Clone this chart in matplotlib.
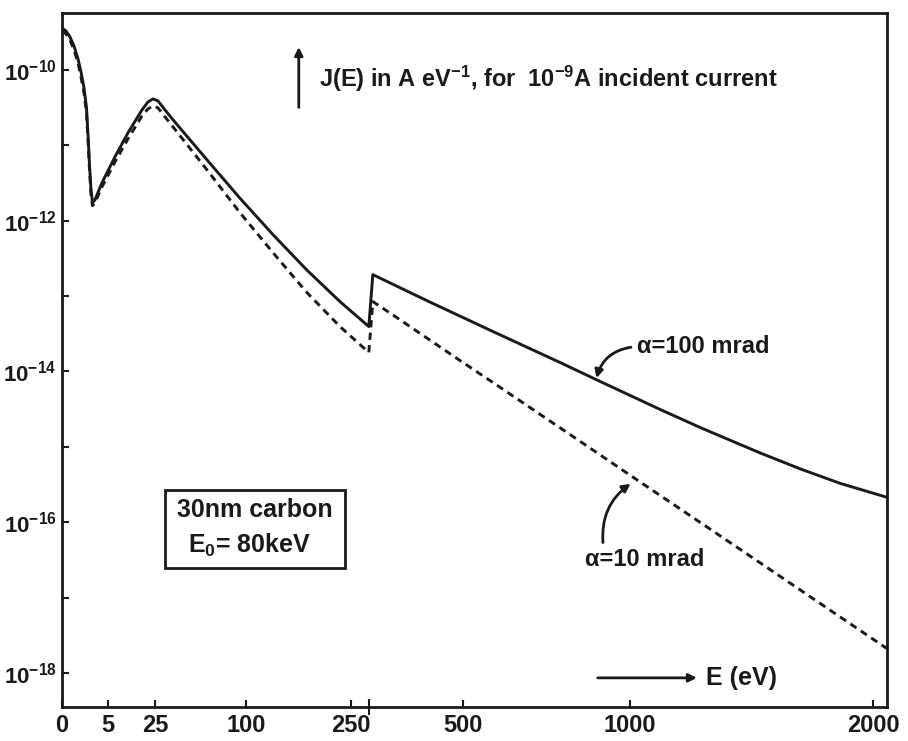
import numpy as np
import matplotlib
matplotlib.use('Agg')
import matplotlib.pyplot as plt
from matplotlib.patches import Rectangle

# energy loss E (eV) and log10 J(E)
e_100 = [0, 0.038, 0.151, 0.34, 0.605, 0.853, 1.144, 1.419, 1.598, 1.788, 1.988, 2.199,
         2.574, 3.78, 7.01, 11.64, 17.94, 21.06, 23.85, 26.67, 30.79, 35.87, 61.7, 93.5,
         132.1, 178.9, 231.1, 284, 292, 410, 577, 770, 898, 1105, 1253, 1358, 1492, 1664,
         1844, 2068]
logj_100 = [-9.444, -9.483, -9.563, -9.682, -9.854, -10.026, -10.238, -10.503, -10.861,
            -11.258, -11.589, -11.762, -11.722, -11.497, -11.152, -10.834, -10.530, -10.424,
            -10.384, -10.411, -10.530, -10.662, -11.192, -11.702, -12.185, -12.656, -13.073,
            -13.404, -12.715, -13.060, -13.470, -13.881, -14.132, -14.503, -14.742, -14.894,
            -15.079, -15.291, -15.483, -15.669]

e_10 = [0, 0.038, 0.151, 0.34, 0.605, 0.853, 1.144, 1.419, 1.598, 1.788, 1.988, 2.199,
        2.574, 3.78, 7.01, 11.64, 17.94, 21.06, 23.85, 26.67, 30.79, 35.87, 61.7, 93.5,
        132.1, 178.9, 231.1, 284, 292, 334, 410, 492, 577, 730, 898, 1010, 1253, 1522,
        1812, 2068]
logj_10 = [-9.483, -9.523, -9.603, -9.735, -9.907, -10.093, -10.305, -10.570, -10.927,
           -11.325, -11.656, -11.801, -11.762, -11.550, -11.219, -10.914, -10.609, -10.517,
           -10.477, -10.503, -10.623, -10.755, -11.325, -11.894, -12.424, -12.954, -13.404,
           -13.748, -13.073, -13.252, -13.556, -13.854, -14.146, -14.630, -15.106, -15.401,
           -16.000, -16.600, -17.192, -17.675]

x_ticks = [0, 5, 25, 100, 250, 500, 1000, 2000]
k_edge = 284
y_decades = list(range(-18, -9))

# the energy axis of the original is hand drawn, roughly sqrt(E);
# spacing of the tick marks along it (arbitrary units)
s_knots = np.sqrt(np.array(x_ticks + [2500], dtype=float))
u_knots = np.array([0, 46, 93, 184, 289, 401, 568, 811, 909], dtype=float)


def fwd(e):
    s = np.sqrt(np.clip(np.asarray(e, dtype=float), 0, None))
    return np.interp(s, s_knots, u_knots)


def inv(u):
    return np.interp(u, u_knots, s_knots) ** 2


plt.rcParams['font.family'] = ['Liberation Sans', 'DejaVu Sans']
plt.rcParams['font.weight'] = 'bold'
plt.rcParams['mathtext.fontset'] = 'custom'
plt.rcParams['mathtext.rm'] = 'Liberation Sans:bold'
plt.rcParams['mathtext.it'] = 'Liberation Sans:bold'
plt.rcParams['mathtext.bf'] = 'Liberation Sans:bold'
plt.rcParams['mathtext.default'] = 'rm'

ink = '#1a1a1a'
fig = plt.figure(figsize=(9.08, 7.41), dpi=100)
ax = fig.add_axes([62 / 908, 34 / 741, 825 / 908, 694 / 741])
ax.set_xscale('function', functions=(fwd, inv))
ax.set_yscale('log')

ax.plot(e_100, 10.0 ** np.array(logj_100), color=ink, lw=2.1, solid_joinstyle='round')
ax.plot(e_10, 10.0 ** np.array(logj_10), color=ink, lw=2.1, ls=(0, (2.5, 1.8)))

ax.set_xlim(0, 2068)
ax.set_ylim(10 ** -18.45, 10 ** -9.245)

ax.set_xticks(x_ticks)
ax.set_xticklabels([str(v) for v in x_ticks])
ax.set_xticks([k_edge], minor=True)
ax.set_yticks([10.0 ** d for d in y_decades if d % 2 == 0])
ax.set_yticklabels(['$10^{%d}$' % d for d in y_decades if d % 2 == 0])
ax.set_yticks([10.0 ** d for d in y_decades if d % 2 != 0], minor=True)
ax.yaxis.set_minor_formatter(plt.NullFormatter())
ax.tick_params(axis='both', which='both', direction='in', length=5, width=1.5,
               color=ink, labelcolor=ink)
ax.tick_params(axis='x', which='major', pad=5, labelsize=17)
ax.tick_params(axis='x', which='minor', direction='inout', length=12)
ax.tick_params(axis='y', which='major', pad=4, labelsize=16)
for sp in ax.spines.values():
    sp.set_linewidth(2.0)
    sp.set_color(ink)

tf = ax.transAxes
ax.annotate('', xy=(0.287, 0.955), xytext=(0.287, 0.860), xycoords=tf,
            arrowprops=dict(arrowstyle='-|>', color=ink, lw=2, mutation_scale=12))
ax.text(0.312, 0.905, 'J(E) in A eV$^{-1}$, for  10$^{-9}$A incident current', transform=tf,
        fontsize=17, va='center', ha='left', color=ink)

ax.text(0.697, 0.519, '\u03b1=100 mrad', transform=tf, fontsize=17, va='center', ha='left',
        color=ink)
ax.annotate('', xy=(0.647, 0.470), xytext=(0.693, 0.519), xycoords=tf,
            arrowprops=dict(arrowstyle='-|>', color=ink, lw=2, mutation_scale=12,
                            connectionstyle='arc3,rad=0.35'))

ax.text(0.634, 0.212, '\u03b1=10 mrad', transform=tf, fontsize=17, va='center', ha='left',
        color=ink)
ax.annotate('', xy=(0.692, 0.324), xytext=(0.656, 0.233), xycoords=tf,
            arrowprops=dict(arrowstyle='-|>', color=ink, lw=2, mutation_scale=12,
                            connectionstyle='arc3,rad=-0.3'))

ax.add_patch(Rectangle((0.1248, 0.2003), 0.218, 0.1124, transform=tf, fill=False,
                       lw=2.0, ec=ink))
ax.text(0.234, 0.284, '30nm carbon', transform=tf, fontsize=18, va='center', ha='center',
        color=ink)
ax.text(0.227, 0.233, 'E$_{0}$= 80keV', transform=tf, fontsize=18, va='center', ha='center',
        color=ink)

ax.annotate('', xy=(0.773, 0.042), xytext=(0.646, 0.042), xycoords=tf,
            arrowprops=dict(arrowstyle='-|>', color=ink, lw=2, mutation_scale=12))
ax.text(0.781, 0.042, 'E (eV)', transform=tf, fontsize=18, va='center', ha='left',
        color=ink)

fig.savefig('out.png', dpi=100)
